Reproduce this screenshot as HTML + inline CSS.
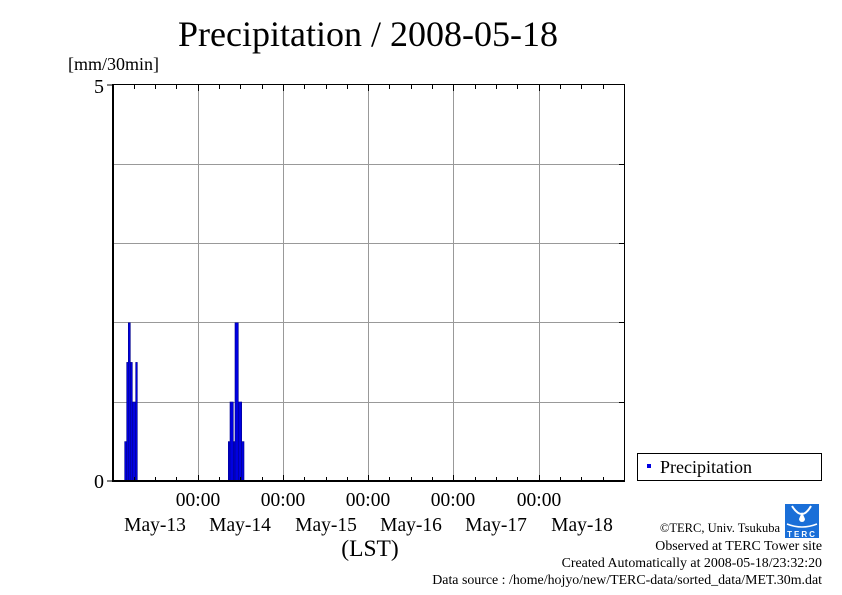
<!DOCTYPE html>
<html><head><meta charset="utf-8"><style>
body{margin:0;background:#fff;}
svg{display:block;font-family:"Liberation Serif",serif;}
</style></head><body>
<svg width="842" height="595" viewBox="0 0 842 595" xmlns="http://www.w3.org/2000/svg">
<rect width="842" height="595" fill="#fff"/>
<text x="368" y="46" font-size="36" text-anchor="middle">Precipitation / 2008-05-18</text>
<text x="68" y="70" font-size="18">[mm/30min]</text>
<g stroke="#999" stroke-width="1">
<line x1="198.5" y1="85" x2="198.5" y2="481"/>
<line x1="283.5" y1="85" x2="283.5" y2="481"/>
<line x1="368.5" y1="85" x2="368.5" y2="481"/>
<line x1="453.5" y1="85" x2="453.5" y2="481"/>
<line x1="539.5" y1="85" x2="539.5" y2="481"/>
<line x1="113" y1="402.5" x2="625" y2="402.5"/>
<line x1="113" y1="322.5" x2="625" y2="322.5"/>
<line x1="113" y1="243.5" x2="625" y2="243.5"/>
<line x1="113" y1="164.5" x2="625" y2="164.5"/>
</g>
<g fill="#0000e0" stroke="#00008b" stroke-width="0.6">
<rect x="124.7" y="441.6" width="2" height="39.4"/>
<rect x="126.7" y="362.4" width="1.6" height="118.6"/>
<rect x="128.3" y="322.8" width="2" height="158.2"/>
<rect x="130.3" y="362.4" width="2" height="118.6"/>
<rect x="132.3" y="402" width="3.4" height="79"/>
<rect x="135.7" y="362.4" width="1.6" height="118.6"/>
<rect x="228.3" y="441.6" width="1.7" height="39.4"/>
<rect x="230" y="402" width="3.3" height="79"/>
<rect x="233.3" y="441.6" width="1.7" height="39.4"/>
<rect x="235" y="322.8" width="3.3" height="158.2"/>
<rect x="238.3" y="402" width="3.4" height="79"/>
<rect x="241.7" y="441.6" width="2.3" height="39.4"/>
</g>
<g stroke="#000" stroke-width="1">
<line x1="113" y1="84.5" x2="625" y2="84.5"/>
<line x1="624.5" y1="85" x2="624.5" y2="481"/>
</g>
<line x1="113" y1="481" x2="625" y2="481" stroke="#000" stroke-width="2"/>
<line x1="113" y1="84" x2="113" y2="482" stroke="#000" stroke-width="2"/>
<g stroke="#000" stroke-width="1">
<line x1="107" y1="85" x2="113" y2="85"/>
<line x1="107" y1="481" x2="113" y2="481"/>
<line x1="619" y1="402.5" x2="625" y2="402.5"/>
<line x1="619" y1="322.5" x2="625" y2="322.5"/>
<line x1="619" y1="243.5" x2="625" y2="243.5"/>
<line x1="619" y1="164.5" x2="625" y2="164.5"/>
</g>
<g stroke="#000" stroke-width="1">
<path d="M134.5 481v-4M155.5 481v-4M176.5 481v-4M198.5 481v-6M219.5 481v-4M240.5 481v-4M262.5 481v-4M283.5 481v-6M304.5 481v-4M326.5 481v-4M347.5 481v-4M368.5 481v-6M389.5 481v-4M411.5 481v-4M432.5 481v-4M453.5 481v-6M475.5 481v-4M496.5 481v-4M517.5 481v-4M539.5 481v-6M560.5 481v-4M581.5 481v-4M603.5 481v-4"/>
<path d="M134.5 85v4M155.5 85v4M176.5 85v4M198.5 85v6M219.5 85v4M240.5 85v4M262.5 85v4M283.5 85v6M304.5 85v4M326.5 85v4M347.5 85v4M368.5 85v6M389.5 85v4M411.5 85v4M432.5 85v4M453.5 85v6M475.5 85v4M496.5 85v4M517.5 85v4M539.5 85v6M560.5 85v4M581.5 85v4M603.5 85v4"/>
</g>
<text x="104" y="93" font-size="20" text-anchor="end">5</text>
<text x="104" y="488" font-size="20" text-anchor="end">0</text>
<g font-size="19.5" text-anchor="middle">
<text x="198" y="506">00:00</text><text x="283" y="506">00:00</text><text x="368" y="506">00:00</text><text x="453" y="506">00:00</text><text x="539" y="506">00:00</text>
<text x="155" y="531">May-13</text><text x="240" y="531">May-14</text><text x="326" y="531">May-15</text><text x="411" y="531">May-16</text><text x="496" y="531">May-17</text><text x="582" y="531">May-18</text>
</g>
<text x="370" y="556" font-size="23.5" text-anchor="middle">(LST)</text>
<rect x="637.5" y="453.5" width="184" height="27" fill="#fff" stroke="#000" stroke-width="1"/>
<rect x="647" y="464" width="4" height="4" fill="#0000e0"/>
<text x="660" y="473" font-size="18">Precipitation</text>
<g font-size="13.9" text-anchor="end">
<text x="780" y="532" font-size="12.5">©TERC, Univ. Tsukuba</text>
<text x="822" y="550">Observed at TERC Tower site</text>
<text x="822" y="567">Created Automatically at 2008-05-18/23:32:20</text>
<text x="822" y="584">Data source : /home/hojyo/new/TERC-data/sorted_data/MET.30m.dat</text>
</g>
<g>
<rect x="785" y="504" width="34" height="34" fill="#1a6fd8"/>
<path d="M792 506q10 16 19 0" stroke="#fff" stroke-width="2" fill="none"/>
<path d="M802 512l-3 7a3 3 0 0 0 6 0z" fill="#fff"/>
<path d="M787 524q15 6 30 0" stroke="#fff" stroke-width="1.5" fill="none"/>
<text x="802" y="537" font-size="8" fill="#fff" text-anchor="middle" font-family="Liberation Sans,sans-serif" font-weight="bold" letter-spacing="2">TERC</text>
</g>
</svg>
</body></html>
